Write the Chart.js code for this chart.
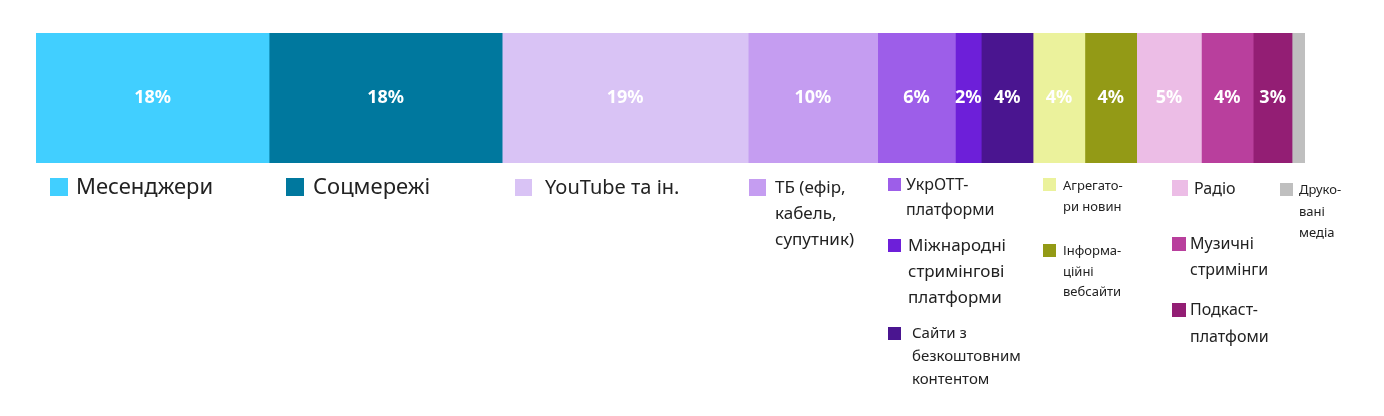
<!DOCTYPE html>
<html>
<head>
<meta charset="utf-8">
<script src="https://cdn.jsdelivr.net/npm/chart.js@4"></script>
<style>
  body { margin: 0; background: #fff; }
</style>
</head>
<body>
<canvas id="mediaChart" width="1384" height="416"></canvas>
<script>
// категорії, значення (%), кольори
const categories = ["Месенджери", "Соцмережі", "YouTube та ін.", "ТБ (ефір, кабель, супутник)", "УкрОТТ-платформи",
  "Міжнародні стримінгові платформи", "Сайти з безкоштовним контентом", "Агрегатори новин", "Інформаційні вебсайти",
  "Радіо", "Музичні стримінги", "Подкаст-платфоми", "Друковані медіа"];
const values = [18, 18, 19, 10, 6, 2, 4, 4, 4, 5, 4, 3, 1];
const showLabel = [true, true, true, true, true, true, true, true, true, true, true, true, false];
const colors = ["#41cfff", "#00789e", "#d9c3f5", "#c59df1", "#9d5ee9", "#6d1fd9", "#4a1590", "#ebf29c",
  "#939a16", "#ecbde6", "#b93f9d", "#931e74", "#bfbfbf"];

// розміщення легенди (рядки тексту, позиції)
const legendItems = [
  { sq: [50, 178, 18], tx: 76, lines: ["Месенджери"], ys: [188], size: 22 },
  { sq: [286, 178, 18], tx: 313, lines: ["Соцмережі"], ys: [188], size: 22 },
  { sq: [515, 179, 17], tx: 545, lines: ["YouTube та ін."], ys: [188], size: 20 },
  { sq: [749, 179, 17], tx: 775, lines: ["ТБ (ефір,", "кабель,", "супутник)"], ys: [188, 214, 240], size: 17 },
  { sq: [888, 178, 13], tx: 906, lines: ["УкрОТТ-", "платформи"], ys: [185, 210], size: 16 },
  { sq: [888, 239, 13], tx: 908, lines: ["Міжнародні", "стримінгові", "платформи"], ys: [246, 272, 298], size: 17 },
  { sq: [888, 327, 13], tx: 912, lines: ["Сайти з", "безкоштовним", "контентом"], ys: [334, 357, 380], size: 15 },
  { sq: [1043, 178, 13], tx: 1063, lines: ["Агрегато-", "ри новин"], ys: [186, 207], size: 13 },
  { sq: [1043, 244, 13], tx: 1063, lines: ["Інформа-", "ційні", "вебсайти"], ys: [251, 272, 292], size: 13 },
  { sq: [1172, 180, 16], tx: 1194, lines: ["Радіо"], ys: [189], size: 16 },
  { sq: [1172, 237, 14], tx: 1190, lines: ["Музичні", "стримінги"], ys: [244, 270], size: 16 },
  { sq: [1172, 303, 14], tx: 1190, lines: ["Подкаст-", "платфоми"], ys: [310, 337], size: 16 },
  { sq: [1280, 183, 13], tx: 1299, lines: ["Друко-", "вані", "медіа"], ys: [190, 212, 233], size: 13 }
];

const total = values.reduce((a, b) => a + b, 0);

const labelsPlugin = {
  id: "labelsAndLegend",
  afterDatasetsDraw(chart) {
    const ctx = chart.ctx;
    ctx.save();
    // підписи на сегментах
    ctx.fillStyle = "#fff";
    ctx.font = "bold 18px 'Noto Sans', sans-serif";
    ctx.textAlign = "center";
    ctx.textBaseline = "middle";
    chart.data.datasets.forEach((ds, i) => {
      if (!showLabel[i]) return;
      const bar = chart.getDatasetMeta(i).data[0];
      ctx.fillText(values[i] + "%", (bar.x + bar.base) / 2, bar.y);
    });
    // легенда
    ctx.textAlign = "left";
    legendItems.forEach((it, i) => {
      ctx.fillStyle = colors[i];
      ctx.fillRect(it.sq[0], it.sq[1], it.sq[2], it.sq[2]);
      ctx.fillStyle = "#222";
      ctx.font = it.size + "px 'Noto Sans', sans-serif";
      it.lines.forEach((ln, j) => ctx.fillText(ln, it.tx, it.ys[j]));
    });
    ctx.restore();
  }
};

new Chart(document.getElementById("mediaChart"), {
  type: "bar",
  data: {
    labels: [""],
    datasets: categories.map((c, i) => ({
      label: c,
      data: [values[i]],
      backgroundColor: colors[i],
      borderWidth: 0,
      barPercentage: 1,
      categoryPercentage: 1
    }))
  },
  options: {
    indexAxis: "y",
    responsive: false,
    animation: false,
    layout: { padding: { left: 36, right: 79, top: 33, bottom: 253 } },
    plugins: { legend: { display: false }, tooltip: { enabled: false } },
    scales: {
      x: { stacked: true, min: 0, max: total, display: false },
      y: { stacked: true, display: false }
    }
  },
  plugins: [labelsPlugin]
});
</script>
</body>
</html>
